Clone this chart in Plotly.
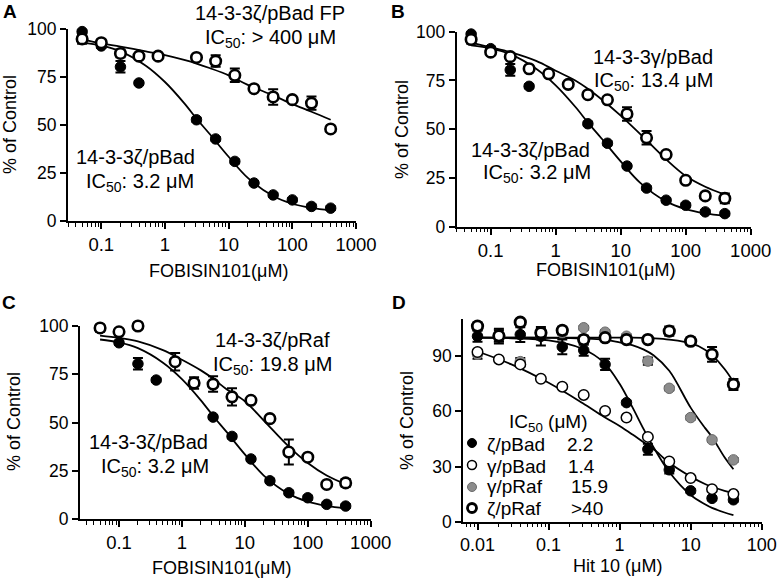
import math
import plotly.graph_objects as go

W, H = 777, 584

# ---------------- data ----------------
# Panels A-C: FOBISIN101 two-fold dilution series (uM)
conc_fob = [0.05, 0.1, 0.2, 0.39, 0.78, 1.56, 3.125, 6.25, 12.5, 25, 50, 100, 200, 400]

# 14-3-3zeta/pBad (filled), same data in A, B, C (no values at 0.78, 1.56)
zb_x = [0.05, 0.1, 0.2, 0.39, 3.125, 6.25, 12.5, 25, 50, 100, 200, 400]
zb_y = [98.8, 91.3, 80.4, 72.0, 52.8, 42.8, 31.1, 19.8, 13.6, 11.0, 7.6, 6.7]
zb_err = [1, 1, 3, 1, 1, 1, 1, 1, 1, 1, 1, 1]

# A: 14-3-3zeta/pBad FP (open)
afp_x = [0.05, 0.1, 0.2, 0.39, 0.78, 3.125, 6.25, 12.5, 25, 50, 100, 200, 400]
afp_y = [95.0, 93.0, 87.4, 86.0, 86.0, 85.3, 83.4, 76.0, 69.0, 64.7, 63.3, 61.5, 48.0]
afp_err = [2.5, 1.5, 2, 1, 1, 1, 3, 3.5, 1, 4, 1, 3.5, 1]

# B: 14-3-3gamma/pBad (open)
bg_x = conc_fob
bg_y = [96.0, 89.5, 87.2, 81.0, 78.4, 73.0, 67.7, 65.1, 57.8, 45.6, 37.0, 23.8, 15.8, 14.5]
bg_err = [2, 1, 1, 1, 1, 1, 1, 1, 3.5, 3.5, 1, 1, 1, 2.5]

# C: 14-3-3zeta/pRaf (open)
cr_x = [0.05, 0.1, 0.2, 0.78, 1.56, 3.125, 6.25, 12.5, 25, 50, 100, 200, 400]
cr_y = [99.0, 97.0, 100.0, 81.5, 70.5, 69.9, 63.3, 61.5, 52.0, 34.7, 32.0, 17.9, 18.7]
cr_err = [2, 1, 1.5, 4.5, 3, 4, 4.5, 1, 1, 6.5, 1, 1, 2]

# fitted curves (A-C)
curve_x = [0.05, 0.1, 0.2, 0.5, 1, 2, 3.2, 5, 10, 20, 50, 100, 200, 400]
zb_fit = [93.0, 91.5, 88.5, 81.0, 72.5, 61.5, 53.0, 45.5, 33.5, 22.5, 13.0, 9.0, 6.8, 5.5]
afp_fit = [94.8, 92.7, 91.0, 88.5, 86.5, 84.0, 82.0, 79.8, 76.0, 71.0, 65.5, 61.0, 57.0, 52.8]
bg_fit = [94.4, 92.0, 89.5, 85.0, 80.0, 75.0, 70.5, 65.5, 57.0, 47.5, 34.5, 26.0, 20.5, 16.5]
cr_fit = [95.0, 93.8, 92.0, 87.5, 82.5, 77.0, 72.5, 67.5, 61.0, 51.0, 37.5, 29.0, 22.5, 18.0]

# Panel D: Hit 10 (uM)
conc_hit = [0.01, 0.02, 0.04, 0.078, 0.156, 0.3125, 0.625, 1.25, 2.5, 5, 10, 20, 40]
d_zb_y = [100.8, 100.8, 101.7, 100.8, 95.0, 93.2, 85.5, 64.7, 39.4, 28.2, 16.8, 12.7, 11.9]
d_zb_err = [3, 4, 4, 5, 4, 3, 3, 1, 3, 2, 1, 1, 1]
d_gb_y = [92.2, 88.2, 85.5, 77.7, 73.4, 68.9, 60.2, 56.6, 46.1, 32.7, 23.7, 17.7, 15.0]
d_gb_err = [1] * 13
d_gr_y = [91.0, 100.0, 87.0, 101.0, 102.7, 105.4, 103.0, 100.8, 87.3, 72.5, 56.6, 44.5, 33.6]
d_gr_err = [2.5, 2, 2, 2, 1, 1, 1, 1, 2, 1, 1, 1, 1]
d_zr_y = [106.3, 101.0, 108.4, 102.7, 104.0, 99.0, 100.0, 99.0, 99.0, 103.6, 98.1, 90.9, 74.6]
d_zr_err = [2, 3, 1, 2, 2, 2, 1, 1, 1, 2.5, 2, 4, 3]

d_curve_x = [0.01, 0.03, 0.1, 0.3, 0.6, 1, 1.5, 2.2, 3, 5, 10, 15.9, 20, 30, 40]
d_zb_fit = [100, 99.7, 98.5, 94.0, 86.5, 75.0, 62.5, 50.0, 40.5, 27.0, 14.5, 9.5, 7.5, 5.0, 3.6]
d_gb_fit = [92.5, 85.5, 75.5, 64.5, 57.0, 52.0, 47.5, 43.0, 39.5, 32.0, 24.5, 20.5, 19.0, 16.8, 15.5]
d_gr_fit = [100, 100, 99.9, 99.6, 99.0, 97.5, 96.0, 93.5, 90.5, 82.0, 62.0, 51.0, 46.0, 35.0, 28.5]
d_zr_fit = [100, 100, 100, 100, 100, 100, 100, 99.9, 99.7, 99.0, 97.0, 93.5, 90.5, 83.0, 76.0]

# ---------------- helpers ----------------
FONT = "Liberation Sans, Arial, sans-serif"


def px(x):
    return x / W


def py(y):
    return 1 - y / H


fig = go.Figure()


def add_points(xs, ys, err, ax, fill, line, lw, size=10.5):
    fig.add_trace(go.Scatter(
        x=xs, y=ys, mode="markers", xaxis=ax[0], yaxis=ax[1],
        error_y=dict(type="data", array=err, color="black", thickness=2, width=5),
        marker=dict(size=size, color=fill, line=dict(color=line, width=lw)),
        cliponaxis=False, showlegend=False, hoverinfo="skip"))


def add_curve(xs, ys, ax):
    fig.add_trace(go.Scatter(
        x=xs, y=ys, mode="lines", xaxis=ax[0], yaxis=ax[1],
        line=dict(color="black", width=1.8, shape="spline", smoothing=1.0),
        cliponaxis=False, showlegend=False, hoverinfo="skip"))


A = ("x", "y")
B = ("x2", "y2")
C = ("x3", "y3")
D = ("x4", "y4")

# Panel A
add_curve(curve_x, zb_fit, A)
add_curve(curve_x, afp_fit, A)
add_points(zb_x, zb_y, zb_err, A, "black", "black", 1)
add_points(afp_x, afp_y, afp_err, A, "white", "black", 2.6)
# Panel B
add_curve(curve_x, zb_fit, B)
add_curve(curve_x, bg_fit, B)
add_points(zb_x, zb_y, zb_err, B, "black", "black", 1)
add_points(bg_x, bg_y, bg_err, B, "white", "black", 2.6)
# Panel C
add_curve(curve_x, zb_fit, C)
add_curve(curve_x, cr_fit, C)
add_points(zb_x, zb_y, zb_err, C, "black", "black", 1)
add_points(cr_x, cr_y, cr_err, C, "white", "black", 2.6)
# Panel D
add_curve(d_curve_x, d_zb_fit, D)
add_curve(d_curve_x, d_gb_fit, D)
add_curve(d_curve_x, d_gr_fit, D)
add_curve(d_curve_x, d_zr_fit, D)
add_points(conc_hit, d_gr_y, d_gr_err, D, "#8c8c8c", "#6a6a6a", 1)
add_points(conc_hit, d_zb_y, d_zb_err, D, "black", "black", 1)
add_points(conc_hit, d_gb_y, d_gb_err, D, "white", "black", 1.5)
add_points(conc_hit, d_zr_y, d_zr_err, D, "white", "black", 2.8)


def xax(dom, rng, anchor, fs=18.5):
    return dict(type="log", domain=dom, range=rng, anchor=anchor,
                showline=True, linewidth=2, linecolor="black",
                ticks="outside", ticklen=6, tickwidth=1.5, tickcolor="black",
                dtick=1, exponentformat="none",
                tickfont=dict(family=FONT, size=fs, color="black"),
                minor=dict(ticks="outside", ticklen=3.5, tickwidth=1.2,
                           tickcolor="black", dtick="D1", showgrid=False),
                showgrid=False, zeroline=False, automargin=False)


def yax(dom, rng, dt, anchor):
    return dict(domain=dom, range=rng, anchor=anchor, dtick=dt, tick0=0,
                showline=True, linewidth=2, linecolor="black",
                ticks="outside", ticklen=6, tickwidth=1.5, tickcolor="black",
                tickfont=dict(family=FONT, size=17.5, color="black"),
                showgrid=False, zeroline=False, automargin=False)


lg3 = math.log10(0.03)
fig.update_layout(
    width=W, height=H,
    margin=dict(l=0, r=0, t=0, b=0, pad=0, autoexpand=False),
    paper_bgcolor="white", plot_bgcolor="white",
    font=dict(family=FONT, color="black"),
    xaxis=xax([px(68), px(356)], [lg3, 3], "y"),
    yaxis=yax([py(221), py(29.3)], [0, 100], 25, "x"),
    xaxis2=xax([px(456.7), px(750.7)], [lg3, 3], "y2"),
    yaxis2=yax([py(226.7), py(31.7)], [0, 100], 25, "x2"),
    xaxis3=xax([px(80), px(370.7)], [-1.62, 3], "y3"),
    yaxis3=yax([py(519), py(326)], [0, 100], 25, "x3"),
    xaxis4=xax([px(463.3), px(761.7)], [-2.2, 2], "y4", fs=18),
    yaxis4=yax([py(521.7), py(319.3)], [0, 110], 30, "x4"),
)

ann = []


def text(x, y, s, size=20, xanchor="center", bold=False, angle=0):
    ann.append(dict(x=px(x), y=py(y), xref="paper", yref="paper", text=s,
                    showarrow=False, xanchor=xanchor, yanchor="middle",
                    textangle=angle,
                    font=dict(family=FONT, size=size, color="black")))


# panel letters
text(10, 12, "<b>A</b>", size=19)
text(398, 12, "<b>B</b>", size=19)
text(9, 302, "<b>C</b>", size=19)
text(399, 302, "<b>D</b>", size=19)

# axis titles
for (x, y) in [(10, 125), (402, 130), (14, 422), (407, 421)]:
    text(x, y, "% of Control", size=18, angle=-90)
text(218, 271, "FOBISIN101(μM)", size=18)
text(605, 270, "FOBISIN101(μM)", size=18)
text(221, 568, "FOBISIN101(μM)", size=18)
text(617, 566, "Hit 10 (μM)", size=18)

S50 = "<sub>50</sub>"
# panel A
text(270, 13, "14-3-3ζ/pBad FP")
text(270, 38, "IC" + S50 + ": > 400 μM")
text(135, 157, "14-3-3ζ/pBad")
text(140, 182, "IC" + S50 + ": 3.2 μM")
# panel B
text(653, 57, "14-3-3γ/pBad")
text(653, 81, "IC" + S50 + ": 13.4 μM")
text(530, 150, "14-3-3ζ/pBad")
text(537, 174, "IC" + S50 + ": 3.2 μM")
# panel C
text(272, 340, "14-3-3ζ/pRaf")
text(272, 365, "IC" + S50 + ": 19.8 μM")
text(148, 442, "14-3-3ζ/pBad")
text(155, 467, "IC" + S50 + ": 3.2 μM")
# panel D legend
text(507, 423, "IC" + S50 + " (μM)", xanchor="left", size=19)
rows = [("ζ/pBad", "2.2", 444, 565), ("γ/pBad", "1.4", 466, 566),
        ("γ/pRaf", "15.9", 487, 569), ("ζ/pRaf", ">40", 508, 569)]
for name, val, y, vx in rows:
    text(485, y, name, xanchor="left", size=19)
    text(vx, y, val, xanchor="left", size=19)

fig.update_layout(annotations=ann)

legend_marks = [(443, "black", "black", 1), (465, "white", "black", 1.5),
                (487, "#8c8c8c", "#6a6a6a", 1), (508, "white", "black", 2.8)]
shapes = []
for y, fill, line, lw in legend_marks:
    shapes.append(dict(type="circle", xref="paper", yref="paper",
                       xsizemode="pixel", ysizemode="pixel",
                       xanchor=px(472), yanchor=py(y),
                       x0=-4.5, x1=4.5, y0=-4.5, y1=4.5,
                       fillcolor=fill, line=dict(color=line, width=lw)))
fig.update_layout(shapes=shapes)

fig.write_html(
    "out.html",
    config={"displayModeBar": False},
    post_script="document.body.style.margin='0';document.body.style.overflow='hidden';",
)
